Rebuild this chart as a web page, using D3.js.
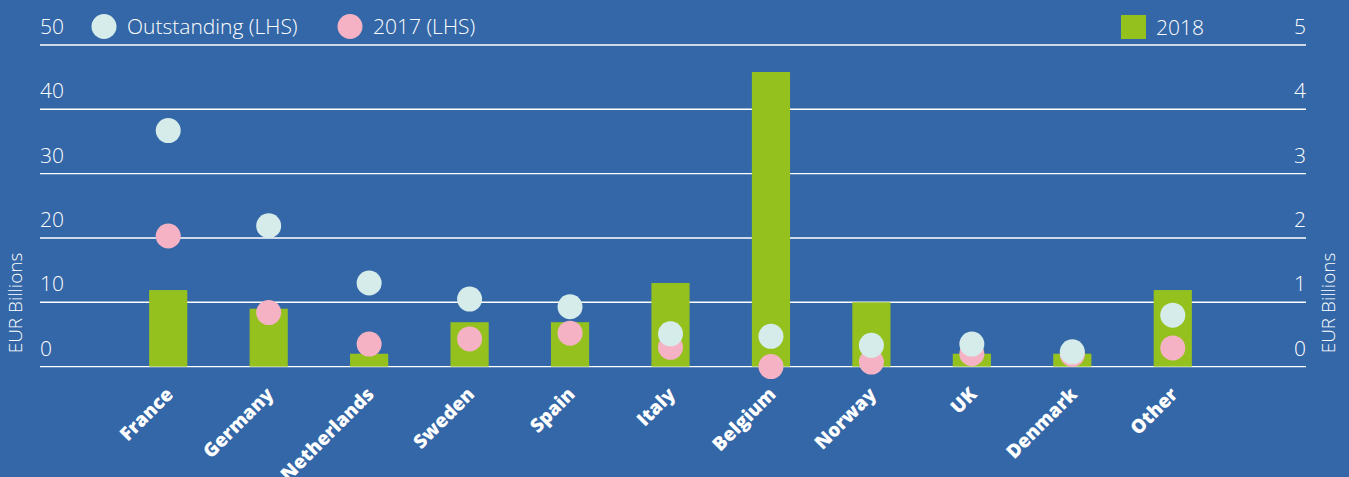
<!DOCTYPE html>
<html>
<head>
<meta charset="utf-8">
<script src="https://cdn.jsdelivr.net/npm/d3@7"></script>
<style>
  html, body { margin: 0; padding: 0; background: #3467a7; }
  svg { display: block; }
  text { font-family: "Open Sans", "Noto Sans", sans-serif; fill: #ffffff; }
</style>
</head>
<body>
<svg id="chart" width="1349" height="477"></svg>
<script>
// Issuance by country, EUR billions
const categories = ["France", "Germany", "Netherlands", "Sweden", "Spain", "Italy",
                    "Belgium", "Norway", "UK", "Denmark", "Other"];
const outstanding = [36.7, 21.9, 13.0, 10.5, 9.3, 5.1, 4.7, 3.3, 3.5, 2.3, 8.0];   // LHS
const issued2017  = [20.3, 8.4, 3.5, 4.3, 5.2, 3.0, 0.0, 0.7, 2.0, 1.9, 2.9];       // LHS
const issued2018  = [1.19, 0.90, 0.20, 0.69, 0.69, 1.30, 4.58, 1.00, 0.20, 0.20, 1.19]; // RHS
const leftTicks  = [0, 10, 20, 30, 40, 50];
const rightTicks = [0, 1, 2, 3, 4, 5];

const colors = { bg: "#3467a7", bar: "#95c11f", outstanding: "#d5ecea", y2017: "#f5b2c4" };

const svg = d3.select("#chart");
svg.append("rect").attr("width", 1349).attr("height", 477).attr("fill", colors.bg);

const gridLeft = 40, gridRight = 1306;
const yTop = 45, yBottom = 366.6;

const x = d3.scaleBand().domain(categories).range([118, 1223]).paddingInner(0.62).paddingOuter(0.31);
const yL = d3.scaleLinear().domain([0, 50]).range([yBottom, yTop]);
const yR = d3.scaleLinear().domain([0, 5]).range([yBottom, yTop]);

// gridlines
svg.append("g").selectAll("line").data(leftTicks).join("line")
  .attr("x1", gridLeft).attr("x2", gridRight)
  .attr("y1", d => yL(d)).attr("y2", d => yL(d))
  .attr("stroke", "#ffffff").attr("stroke-width", 1.4);

// left axis labels
svg.append("g").selectAll("text").data(leftTicks).join("text")
  .attr("x", gridLeft).attr("y", d => yL(d) - 11)
  .attr("font-size", 21).attr("font-weight", 300)
  .text(d => d);

// right axis labels
svg.append("g").selectAll("text").data(rightTicks).join("text")
  .attr("x", gridRight).attr("y", d => yR(d) - 11)
  .attr("text-anchor", "end")
  .attr("font-size", 21).attr("font-weight", 300)
  .text(d => d);

// axis titles
svg.append("text").attr("transform", "translate(22,303) rotate(-90)")
  .attr("text-anchor", "middle").attr("font-size", 19).attr("font-weight", 300)
  .text("EUR Billions");
svg.append("text").attr("transform", "translate(1335,303) rotate(-90)")
  .attr("text-anchor", "middle").attr("font-size", 19).attr("font-weight", 300)
  .text("EUR Billions");

// 2018 bars (RHS)
svg.append("g").selectAll("rect").data(categories).join("rect")
  .attr("x", d => x(d))
  .attr("width", x.bandwidth())
  .attr("y", (d, i) => yR(issued2018[i]))
  .attr("height", (d, i) => yR(0) - yR(issued2018[i]))
  .attr("fill", colors.bar);

const r = 12.5;
const cx = d => x(d) + x.bandwidth() / 2;

// 2017 markers (LHS)
svg.append("g").selectAll("circle").data(categories).join("circle")
  .attr("cx", cx).attr("cy", (d, i) => yL(issued2017[i])).attr("r", r)
  .attr("fill", colors.y2017);

// Outstanding markers (LHS)
svg.append("g").selectAll("circle").data(categories).join("circle")
  .attr("cx", cx).attr("cy", (d, i) => yL(outstanding[i])).attr("r", r)
  .attr("fill", colors.outstanding);

// category labels
svg.append("g").selectAll("text").data(categories).join("text")
  .attr("transform", d => `translate(${cx(d) + 6},${yBottom + 29}) rotate(-45)`)
  .attr("text-anchor", "end")
  .attr("font-size", 19).attr("font-weight", 800)
  .text(d => d);

// legend
const legend = svg.append("g");
legend.append("circle").attr("cx", 104).attr("cy", 26.5).attr("r", r).attr("fill", colors.outstanding);
legend.append("text").attr("x", 127).attr("y", 34).attr("font-size", 21).attr("font-weight", 300)
  .text("Outstanding (LHS)");
legend.append("circle").attr("cx", 350).attr("cy", 26.5).attr("r", r).attr("fill", colors.y2017);
legend.append("text").attr("x", 373).attr("y", 34).attr("font-size", 21).attr("font-weight", 300)
  .text("2017 (LHS)");
legend.append("rect").attr("x", 1121).attr("y", 15).attr("width", 25).attr("height", 24).attr("fill", colors.bar);
legend.append("text").attr("x", 1156).attr("y", 35).attr("font-size", 21).attr("font-weight", 300)
  .text("2018");
</script>
</body>
</html>
